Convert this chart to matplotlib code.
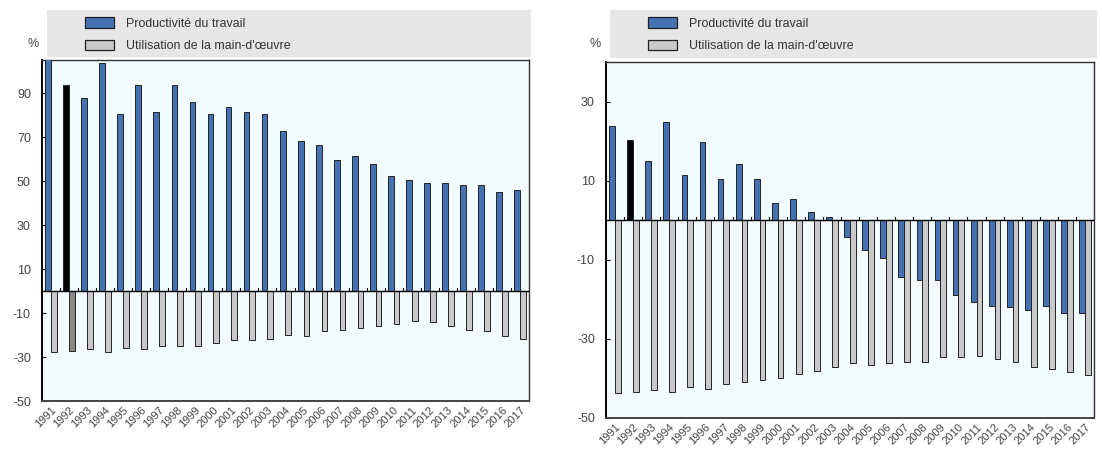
import numpy as np
import matplotlib
matplotlib.use("Agg")
import matplotlib.pyplot as plt
from matplotlib.patches import Rectangle, Patch

plt.rcParams['font.family'] = ['Liberation Sans', 'DejaVu Sans']
plt.rcParams['axes.unicode_minus'] = False

years = [str(y) for y in range(1991, 2018)]

# left panel
prod_left = [112, 93.5, 87.6, 103.8, 80.3, 93.5, 81.5, 93.5, 86.1, 80.3, 83.6, 81.5, 80.3,
             72.9, 68.4, 66.2, 59.6, 61.5, 57.6, 52.3, 50.5, 49.0, 49.1, 48.4, 48.4, 45.0, 45.8]
util_left = [-27.5, -27.1, -26.3, -27.5, -25.7, -26.3, -25.0, -25.0, -25.0, -23.8, -22.4, -22.4, -21.8,
             -20.2, -20.4, -18.0, -17.5, -16.8, -15.7, -14.8, -13.6, -14.3, -15.7, -17.5, -18.0, -20.4, -22.0]

# right panel
prod_right = [23.9, 20.2, 14.9, 24.8, 11.5, 19.8, 10.3, 14.1, 10.3, 4.4, 5.4, 2.0, 0.8,
              -4.2, -7.6, -9.5, -14.3, -15.1, -15.1, -19.0, -20.6, -21.6, -22.0, -22.8, -21.6, -23.5, -23.5]
util_right = [-43.7, -43.4, -42.9, -43.4, -42.1, -42.6, -41.4, -41.0, -40.3, -39.9, -38.8, -38.0, -37.1,
              -36.0, -36.5, -36.1, -35.8, -35.8, -34.6, -34.6, -34.2, -35.0, -35.8, -37.0, -37.6, -38.3, -39.2]

labels = ["Productivité du travail", "Utilisation de la main-d'œuvre"]

BLUE = '#4472B2'
GREY = '#C9C9C9'
BG = '#F2FBFD'
highlight = 1  # 1992

fig = plt.figure(figsize=(11.02, 4.58), dpi=100)
W, H = 1102, 458


def px_axes(x0, y0, x1, y1):
    return fig.add_axes([x0 / W, 1 - y1 / H, (x1 - x0) / W, (y1 - y0) / H])


def draw_panel(ax, prod, util, ylim, yticks, box, dark_util):
    x = np.arange(len(years))
    w = 0.32
    pc = [BLUE] * len(x)
    pc[highlight] = 'black'
    uc = [GREY] * len(x)
    if dark_util:
        uc[highlight] = '#8a8a8a'
    ax.bar(x - w / 2, prod, w, color=pc, edgecolor='#222222', linewidth=0.7, zorder=3)
    ax.bar(x + w / 2, util, w, color=uc, edgecolor='#222222', linewidth=0.7, zorder=3)
    ax.axhline(0, color='black', lw=1.0, zorder=4)
    # small ticks on the zero line between years
    for b in x[:-1] + 0.5:
        ax.plot([b, b], [0, (ylim[1] - ylim[0]) * 0.008], color='black', lw=0.8, zorder=4)
    ax.set_xlim(-0.5, len(x) - 0.5)
    ax.set_ylim(*ylim)
    ax.set_yticks(yticks)
    ax.set_xticks(x)
    ax.set_xticklabels(years, rotation=45, ha='right', rotation_mode='anchor',
                       fontsize=8, color='#444444')
    ax.tick_params(axis='x', length=0, pad=3)
    ax.tick_params(axis='y', direction='in', length=3, labelsize=9, labelcolor='#444444',
                   pad=8)
    ax.set_facecolor(BG)
    for s in ax.spines.values():
        s.set_color('#333333')
        s.set_linewidth(1.0)
    ax.spines['left'].set_color('black')
    ax.spines['left'].set_linewidth(1.4)
    ax.spines['bottom'].set_linewidth(1.4)
    ax.spines['bottom'].set_color('#444444')

    # grey legend band above the axes
    bx0, by0, bx1, by1 = box
    fig.patches.append(Rectangle((bx0 / W, 1 - by1 / H), (bx1 - bx0) / W, (by1 - by0) / H,
                                 transform=fig.transFigure, facecolor='#E6E6E6',
                                 edgecolor='none', zorder=-5))
    handles = [Patch(facecolor=BLUE, edgecolor='#222222', linewidth=0.9),
               Patch(facecolor=GREY, edgecolor='#222222', linewidth=0.9)]
    leg = ax.legend(handles, labels, loc='upper left', frameon=False, fontsize=8.9,
                    bbox_to_anchor=((bx0 + 36) / W, 1 - (by0 + 5) / H),
                    bbox_transform=fig.transFigure, handlelength=2.3, handleheight=0.9,
                    labelspacing=0.8, handletextpad=0.95, borderaxespad=0, borderpad=0.2,
                    labelcolor='#333333')
    leg.set_zorder(10)
    fig.text((bx0 - 20) / W, 1 - 44 / H, '%', fontsize=9, color='#444444',
             ha='left', va='center')


ax1 = px_axes(42, 60, 529, 401)
draw_panel(ax1, prod_left, util_left, (-50, 105), [-50, -30, -10, 10, 30, 50, 70, 90],
           (47, 10, 531, 57), True)

ax2 = px_axes(606, 62, 1094, 418)
draw_panel(ax2, prod_right, util_right, (-50, 40), [-50, -30, -10, 10, 30],
           (610, 10, 1097, 58), False)

fig.savefig('out.png', dpi=100, facecolor='white')
